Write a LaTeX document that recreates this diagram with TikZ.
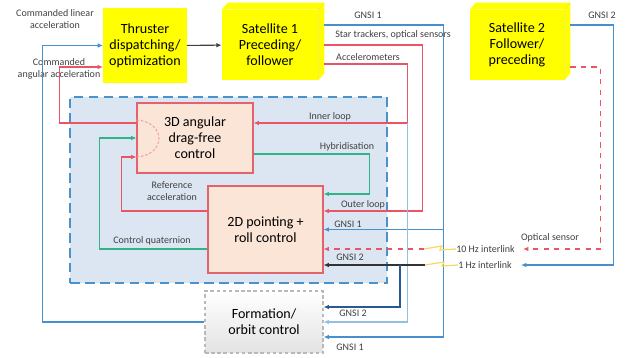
\documentclass[tikz,border=0pt]{standalone}
\usepackage{fontspec}
\setmainfont{Carlito}
\usetikzlibrary{positioning, arrows.meta, calc}

\definecolor{satyellow}{RGB}{255,255,0}
\definecolor{satedge}{RGB}{235,235,60}
\definecolor{ctrlfill}{RGB}{251,229,214}
\definecolor{ctrlline}{RGB}{226,98,110}
\definecolor{loopfill}{RGB}{220,230,242}
\definecolor{loopline}{RGB}{74,146,204}
\definecolor{sigblue}{RGB}{70,145,205}
\definecolor{sigpale}{RGB}{145,192,225}
\definecolor{sigdark}{RGB}{40,90,145}
\definecolor{sigred}{RGB}{232,85,100}
\definecolor{siggreen}{RGB}{50,178,135}
\definecolor{labgray}{RGB}{64,64,64}
\definecolor{zap}{RGB}{250,215,100}

\begin{document}
\begin{tikzpicture}[
        x=0.02cm, y=-0.02cm,
        sat/.style={fill=satyellow, minimum width=1.92cm, minimum height=1.4cm, align=center, font=\fontsize{8}{9.2}\selectfont},
        ctrl/.style={draw=ctrlline, fill=ctrlfill, line width=0.6pt, align=center, font=\fontsize{8}{9.2}\selectfont},
        orbit/.style={draw=gray!55, dash pattern=on 2pt off 1.5pt, top color=white, bottom color=gray!22, line width=0.6pt, align=center, font=\fontsize{8}{9.2}\selectfont},
        loopbox/.style={draw=loopline, fill=loopfill, line width=1.2pt, dash pattern=on 5.5pt off 3pt},
        lbl/.style={text=labgray, align=center, font=\fontsize{5.7}{6.8}\selectfont, inner sep=0pt},
        arrow/.style={-{Latex[length=3pt,width=2.6pt]}, line width=0.6pt},
        zigzag/.style={draw=zap, line width=0.7pt}
    ]
    \useasboundingbox (0,0) rectangle (625,358);

    \node[loopbox, minimum width=6.34cm, minimum height=3.72cm] (Loop) at (228.5,190) {};

    \node[sat, minimum width=1.6cm, minimum height=1.5cm] (Thruster) at (145,45.5) {Thruster\\dispatching/\\optimization};
    \node[sat] (Sat1) at (270,45) {Satellite 1\\Preceding/\\follower};
    \node[sat, minimum width=1.88cm] (Sat2) at (517,45) {Satellite 2\\Follower/\\preceding};

    \fill[satyellow] (Sat1.north west) -- ++(6,-7) -- ($(Sat1.north east)+(6,-7)$) -- ($(Sat1.south east)+(6,-7)$) -- (Sat1.south east) -- (Sat1.north east) -- cycle;
    \fill[satyellow] (Sat2.north west) -- ++(6,-7) -- ($(Sat2.north east)+(6,-7)$) -- ($(Sat2.south east)+(6,-7)$) -- (Sat2.south east) -- (Sat2.north east) -- cycle;
    \draw[satedge, line width=0.3pt] (Sat1.north east) -- ++(6,-7) (Sat1.north east) -- (Sat1.south east);
    \draw[satedge, line width=0.3pt] (Sat2.north east) -- ++(6,-7) (Sat2.north east) -- (Sat2.south east);

    \node[ctrl, minimum width=2.32cm, minimum height=1.4cm] (AngCtrl) at (195,138) {3D angular\\drag-free\\control};
    \node[ctrl, minimum width=2.3cm, minimum height=1.74cm] (PointCtrl) at (265.5,229.5) {2D pointing +\\roll control};
    \node[orbit, minimum width=2.36cm, minimum height=1.24cm] (FormCtrl) at (264,322) {Formation/\\orbit control};

    \node[lbl] (LinAcc) at (55,19) {Commanded linear\\acceleration};
    \node[lbl] (AngAcc) at (59,68.5) {Commanded\\angular acceleration};
    \node[lbl] at (368,15) {GNSI 1};
    \node[lbl] at (393,35) {Star trackers, optical sensors};
    \node[lbl] at (368,57) {Accelerometers};
    \node[lbl] at (602,15) {GNSI 2};
    \node[lbl] at (330,117) {Inner loop};
    \node[lbl] at (347,147) {Hybridisation};
    \node[lbl] at (172,191.5) {Reference\\acceleration};
    \node[lbl] at (363,205) {Outer loop};
    \node[lbl] at (348,224) {GNSI 1};
    \node[lbl] at (550,238) {Optical sensor};
    \node[lbl] (Hz10) at (485.5,249) {10 Hz interlink};
    \node[lbl] at (350,257) {GNSI 2};
    \node[lbl] (Hz1) at (485,265) {1 Hz interlink};
    \node[lbl] at (152,241) {Control quaternion};
    \node[lbl] at (353,313) {GNSI 2};
    \node[lbl] at (350,347) {GNSI 1};

    \draw[arrow, black!75] (Thruster) -- (Sat1);
    \draw[arrow, sigblue] (FormCtrl.west) -- ++(-162,0) |- (Thruster.west);
    \draw[arrow, sigred] ($(AngCtrl.west)+(0,-15)$) -- ++(-77,0) |- ($(Thruster.west)+(0,21.5)$);
    \draw[sigred!55, line width=0.6pt, dash pattern=on 1.5pt off 1pt] ($(AngCtrl.west)+(0,-18)$) .. controls ($(AngCtrl.west)+(30,-16)$) and ($(AngCtrl.west)+(30,17)$) .. ($(AngCtrl.west)+(0,19)$);
    \draw[arrow, siggreen] ($(PointCtrl.west)+(0,19.5)$) -- ++(-108,0) |- (AngCtrl.west);
    \draw[arrow, sigred] ($(PointCtrl.west)+(0,-18.5)$) -- ++(-86,0) |- ($(AngCtrl.west)+(0,19)$);
    \draw[arrow, siggreen] ($(AngCtrl.east)+(0,16)$) -- ++(116,0) |- ($(PointCtrl.east)+(0,-35.5)$);

    \draw[arrow, sigblue] ($(Sat1.east)+(6,-20)$) -- ++(119,0) coordinate (G1) |- ($(FormCtrl.east)+(0,15)$);
    \draw[arrow, sigblue] (G1 |- PointCtrl.east) -- (PointCtrl.east);
    \draw[arrow, sigred] ($(Sat1.east)+(6,0)$) -- ++(98,0) |- ($(PointCtrl.east)+(0,-18.5)$);
    \draw[arrow, sigred] ($(Sat1.east)+(6,19)$) -- ++(83,0) coordinate (Acc) |- ($(AngCtrl.east)+(0,-15)$);
    \draw[arrow, sigpale] ($(Acc |- AngCtrl.east)+(0,-15)$) |- (FormCtrl.east);

    \draw[arrow, sigblue] ($(Sat2.east)+(6,-20)$) -- ++(43,0) |- ($(Hz1.east)+(9,0)$);
    \draw[arrow, sigred, dashed] ($(Sat2.east)+(6,22)$) -- ++(30,0) |- ($(Hz10.east)+(8,0)$);

    \draw[zigzag] (Hz10.west) -- ++(-16,1) -- ++(2,-4) -- ++(-18,3) coordinate (Z10);
    \draw[zigzag] (Hz1.west) -- ++(-16,1) -- ++(2,-4) -- ++(-19,3) coordinate (Z1);
    \draw[arrow, sigred, dashed] (Z10) -- (PointCtrl.east |- Z10);
    \draw[arrow, black!80] (Z1) -- (PointCtrl.east |- Z1);
    \coordinate (Tap2) at (400,265);
    \draw[arrow, sigdark] (Tap2) |- ($(FormCtrl.east)+(0,-15)$);

\end{tikzpicture}
\end{document}
